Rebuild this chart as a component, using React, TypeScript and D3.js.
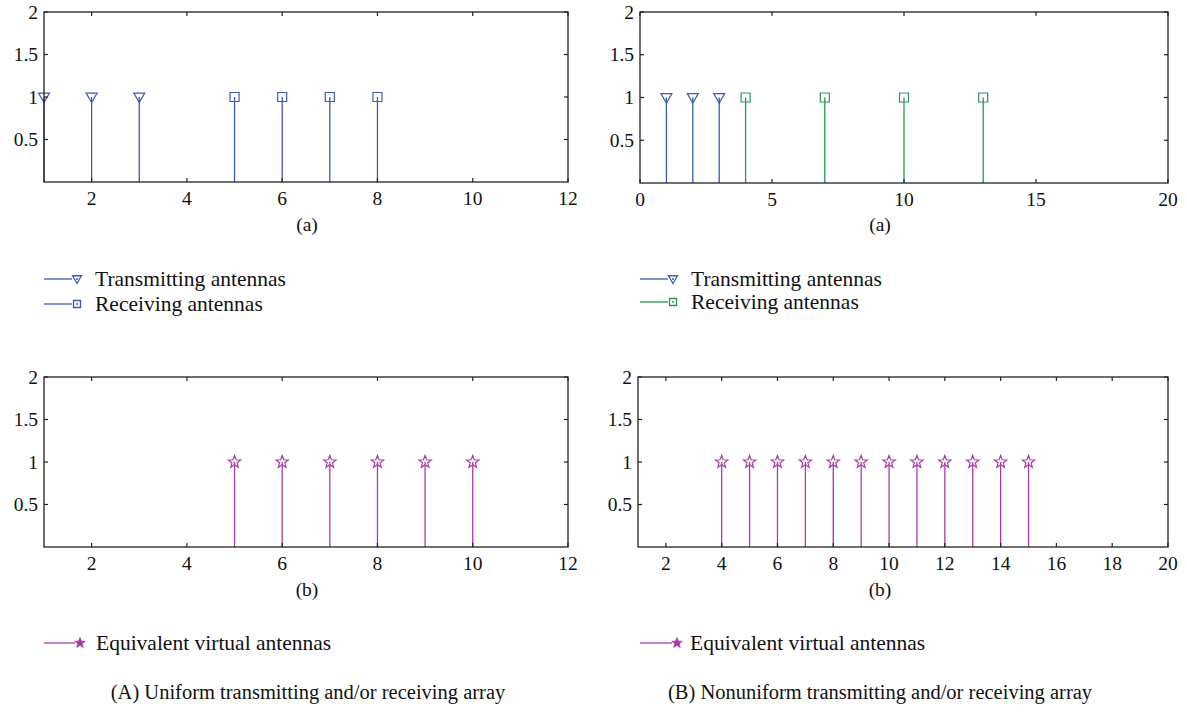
import React from "react";
import * as d3 from "d3";

const W = 1187;
const H = 713;

const BLUE = "#3a5cb4";
const GREEN = "#2a9556";
const MAGENTA = "#a93aa6";
const FONT = "'Liberation Serif', 'Times New Roman', serif";

// Panel A (uniform)
const aTxPositions = [1, 2, 3];
const aRxPositions = [5, 6, 7, 8];
const aVirtualPositions = [5, 6, 7, 8, 9, 10];
const aXTicks = [2, 4, 6, 8, 10, 12];

// Panel B (nonuniform)
const bTxPositions = [1, 2, 3];
const bRxPositions = [4, 7, 10, 13];
const bVirtualPositions = [4, 5, 6, 7, 8, 9, 10, 11, 12, 13, 14, 15];
const bTopXTicks = [0, 5, 10, 15, 20];
const bBotXTicks = [2, 4, 6, 8, 10, 12, 14, 16, 18, 20];

const stemValue = 1;
const yTicks = [0.5, 1, 1.5, 2];
const yTickLabels = ["0.5", "1", "1.5", "2"];

type Series = { xs: number[]; color: string; marker: "tri" | "sq" | "star" };

function markerPath(kind: string, size: number): string {
  if (kind === "tri") {
    const hw = size * 0.5;
    return `M${-hw},${-size * 0.36}L${hw},${-size * 0.36}L0,${size * 0.5}Z`;
  }
  if (kind === "sq") {
    const h = size / 2;
    return `M${-h},${-h}L${h},${-h}L${h},${h}L${-h},${h}Z`;
  }
  const pts: string[] = [];
  const R = size / 2;
  const r = R * 0.42;
  for (let i = 0; i < 10; i++) {
    const ang = -Math.PI / 2 + (i * Math.PI) / 5;
    const rr = i % 2 === 0 ? R : r;
    pts.push(`${(rr * Math.cos(ang)).toFixed(2)},${(rr * Math.sin(ang)).toFixed(2)}`);
  }
  return "M" + pts.join("L") + "Z";
}

function Marker({ kind, color, x, y, size }: { kind: string; color: string; x: number; y: number; size: number }) {
  return (
    <path
      d={markerPath(kind, size)}
      transform={`translate(${x},${y})`}
      fill="none"
      stroke={color}
      strokeWidth={1.2}
    />
  );
}

function StemPlot({
  left,
  right,
  top,
  bottom,
  xDomain,
  xTicks,
  series,
}: {
  left: number;
  right: number;
  top: number;
  bottom: number;
  xDomain: [number, number];
  xTicks: number[];
  series: Series[];
}) {
  const x = d3.scaleLinear().domain(xDomain).range([left, right]);
  const y = d3.scaleLinear().domain([0, 2]).range([bottom, top]);
  const tl = 4;
  const sizes: Record<string, number> = { tri: 11, sq: 9, star: 13 };
  return (
    <g>
      {series.map((s, si) =>
        s.xs.map((v, i) => (
          <g key={`${si}-${i}`}>
            <line x1={x(v)} x2={x(v)} y1={y(0)} y2={y(stemValue)} stroke={s.color} strokeWidth={1.3} />
            <Marker kind={s.marker} color={s.color} x={x(v)} y={y(stemValue)} size={sizes[s.marker]} />
          </g>
        ))
      )}
      <rect x={left} y={top} width={right - left} height={bottom - top} fill="none" stroke="#222" strokeWidth={1.3} />
      {xTicks.map((t) => (
        <g key={"xt" + t}>
          <line x1={x(t)} x2={x(t)} y1={bottom} y2={bottom - tl} stroke="#222" strokeWidth={1.2} />
          <line x1={x(t)} x2={x(t)} y1={top} y2={top + tl} stroke="#222" strokeWidth={1.2} />
          <text x={x(t)} y={bottom + 23} textAnchor="middle" fontFamily={FONT} fontSize={19.5} fill="#111">
            {t}
          </text>
        </g>
      ))}
      {yTicks.map((t, i) => (
        <g key={"yt" + t}>
          <line x1={left} x2={left + tl} y1={y(t)} y2={y(t)} stroke="#222" strokeWidth={1.2} />
          <line x1={right} x2={right - tl} y1={y(t)} y2={y(t)} stroke="#222" strokeWidth={1.2} />
          <text x={left - 6} y={y(t) + 6.5} textAnchor="end" fontFamily={FONT} fontSize={19.5} fill="#111">
            {yTickLabels[i]}
          </text>
        </g>
      ))}
    </g>
  );
}

function LegendItem({
  x0,
  x1,
  y,
  color,
  kind,
  label,
  textX,
}: {
  x0: number;
  x1: number;
  y: number;
  color: string;
  kind: string;
  label: string;
  textX: number;
}) {
  const sz = kind === "tri" ? 9 : 7;
  return (
    <g>
      <line x1={x0} x2={x1} y1={y} y2={y} stroke={color} strokeWidth={1.3} />
      {kind === "star" ? (
        <path d={markerPath("star", 11)} transform={`translate(${x1 + 5},${y})`} fill={color} stroke={color} strokeWidth={0.8} />
      ) : (
        <g>
          <path d={markerPath(kind, sz)} transform={`translate(${x1 + 5},${y})`} fill="none" stroke={color} strokeWidth={1.3} />
          <circle cx={x1 + 5} cy={y} r={1} fill={color} />
        </g>
      )}
      <text x={textX} y={y + 7} fontFamily={FONT} fontSize={21.5} fill="#111">
        {label}
      </text>
    </g>
  );
}

export default function App() {
  return (
    <svg width={W} height={H} style={{ position: "absolute", left: 0, top: 0, background: "#fff" }}>
      {/* Panel A top */}
      <StemPlot
        left={44}
        right={568}
        top={12}
        bottom={182}
        xDomain={[1, 12]}
        xTicks={aXTicks}
        series={[
          { xs: aTxPositions, color: BLUE, marker: "tri" },
          { xs: aRxPositions, color: BLUE, marker: "sq" },
        ]}
      />
      <text x={307} y={231} textAnchor="middle" fontFamily={FONT} fontSize={19.5} fill="#111">(a)</text>
      <LegendItem x0={44} x1={72} y={279} color={BLUE} kind="tri" label="Transmitting antennas" textX={95} />
      <LegendItem x0={44} x1={72} y={304} color={BLUE} kind="sq" label="Receiving antennas" textX={95} />

      {/* Panel A bottom */}
      <StemPlot
        left={44}
        right={568}
        top={377}
        bottom={547}
        xDomain={[1, 12]}
        xTicks={aXTicks}
        series={[{ xs: aVirtualPositions, color: MAGENTA, marker: "star" }]}
      />
      <text x={307} y={596} textAnchor="middle" fontFamily={FONT} fontSize={19.5} fill="#111">(b)</text>
      <LegendItem x0={44} x1={75} y={643} color={MAGENTA} kind="star" label="Equivalent virtual antennas" textX={96} />
      <text x={308} y={699} textAnchor="middle" fontFamily={FONT} fontSize={20.5} fill="#111">
        (A) Uniform transmitting and/or receiving array
      </text>

      {/* Panel B top */}
      <StemPlot
        left={640}
        right={1168}
        top={12}
        bottom={183}
        xDomain={[0, 20]}
        xTicks={bTopXTicks}
        series={[
          { xs: bTxPositions, color: BLUE, marker: "tri" },
          { xs: bRxPositions, color: GREEN, marker: "sq" },
        ]}
      />
      <text x={880} y={231} textAnchor="middle" fontFamily={FONT} fontSize={19.5} fill="#111">(a)</text>
      <LegendItem x0={640} x1={668} y={279} color={BLUE} kind="tri" label="Transmitting antennas" textX={691} />
      <LegendItem x0={640} x1={668} y={302} color={GREEN} kind="sq" label="Receiving antennas" textX={691} />

      {/* Panel B bottom */}
      <StemPlot
        left={638}
        right={1168}
        top={377}
        bottom={547}
        xDomain={[1, 20]}
        xTicks={bBotXTicks}
        series={[{ xs: bVirtualPositions, color: MAGENTA, marker: "star" }]}
      />
      <text x={880} y={596} textAnchor="middle" fontFamily={FONT} fontSize={19.5} fill="#111">(b)</text>
      <LegendItem x0={640} x1={672} y={643} color={MAGENTA} kind="star" label="Equivalent virtual antennas" textX={690} />
      <text x={880} y={699} textAnchor="middle" fontFamily={FONT} fontSize={20.5} fill="#111">
        (B) Nonuniform transmitting and/or receiving array
      </text>
    </svg>
  );
}
